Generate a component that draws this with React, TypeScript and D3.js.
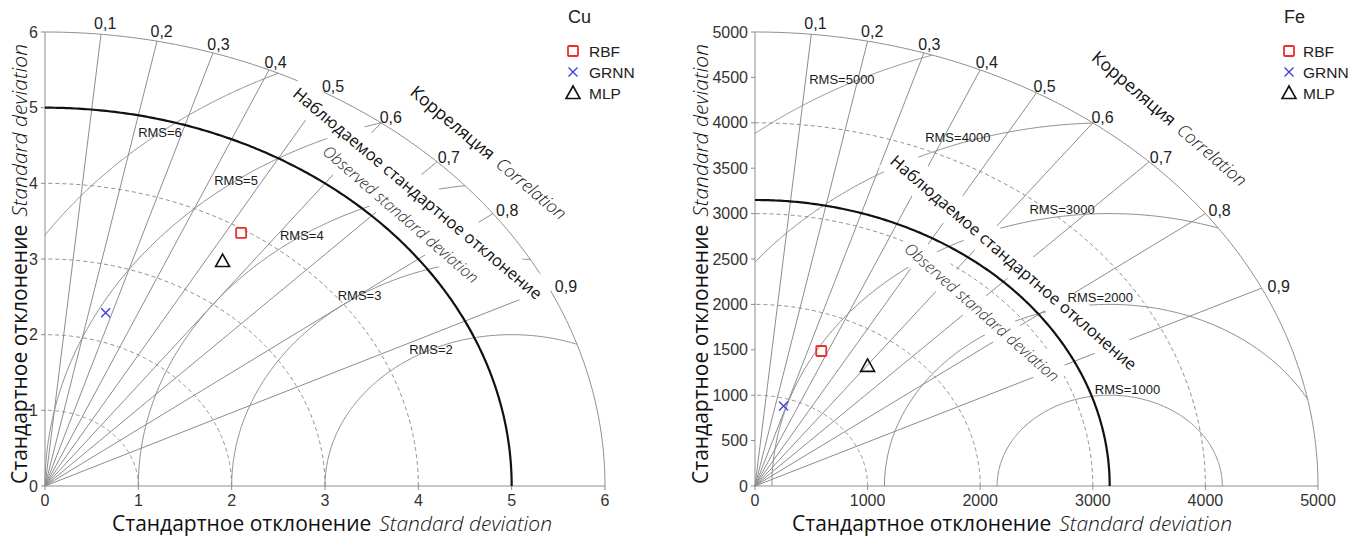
import React, { useLayoutEffect, useRef, useState } from "react";
import * as d3 from "d3";

// ---------- shared ----------
const corrTicks = [0.1, 0.2, 0.3, 0.4, 0.5, 0.6, 0.7, 0.8, 0.9];
const corrTickLabels = ["0,1", "0,2", "0,3", "0,4", "0,5", "0,6", "0,7", "0,8", "0,9"];
const modelNames = ["RBF", "GRNN", "MLP"];

// ---------- Cu ----------
const cuTitle = "Cu";
const cuXTicks = [0, 1, 2, 3, 4, 5, 6];
const cuYTicks = [0, 1, 2, 3, 4, 5, 6];
const cuMaxStd = 6;
const cuRefStd = 5;
const cuStdArcs = [1, 2, 3, 4];
const cuRmsLevels = [2, 3, 4, 5, 6];
const cuRmsLabels = ["RMS=2", "RMS=3", "RMS=4", "RMS=5", "RMS=6"];
const cuModelStd = [3.95, 2.38, 3.53];
const cuModelCorr = [0.532, 0.273, 0.539];

// ---------- Fe ----------
const feTitle = "Fe";
const feXTicks = [0, 1000, 2000, 3000, 4000, 5000];
const feYTicks = [0, 500, 1000, 1500, 2000, 2500, 3000, 3500, 4000, 4500, 5000];
const feMaxStd = 5000;
const feRefStd = 3150;
const feStdArcs = [1000, 2000, 3000, 4000];
const feRmsLevels = [1000, 2000, 3000, 4000, 5000];
const feRmsLabels = ["RMS=1000", "RMS=2000", "RMS=3000", "RMS=4000", "RMS=5000"];
const feModelStd = [1599, 917, 1658];
const feModelCorr = [0.368, 0.277, 0.603];

const GRAY = "#8d8d8d";
const SANS = "Liberation Sans, Arial, sans-serif";
const OPEN = "Open Sans, sans-serif";

function MaskedText(props: {
  x: number; y: number; angle: number; pad?: number; children: any;
  fontSize: number; fill?: string; fontStyle?: string; fontWeight?: number; family?: string;
}) {
  const ref = useRef<SVGTextElement>(null);
  const [bb, setBb] = useState<any>(null);
  useLayoutEffect(() => {
    if (ref.current) {
      const b = ref.current.getBBox();
      setBb({ x: b.x, y: b.y, width: b.width, height: b.height });
    }
  }, []);
  const pad = props.pad ?? 4;
  return (
    <g transform={`translate(${props.x},${props.y}) rotate(${props.angle})`}>
      {bb && (
        <rect x={bb.x - pad} y={bb.y - pad} width={bb.width + 2 * pad} height={bb.height + 2 * pad} fill="white" />
      )}
      <text
        ref={ref}
        textAnchor="middle"
        dominantBaseline="central"
        fontFamily={props.family ?? OPEN}
        fontSize={props.fontSize}
        fill={props.fill ?? "#111"}
        fontStyle={props.fontStyle}
        fontWeight={props.fontWeight}
      >
        {props.children}
      </text>
    </g>
  );
}

function Marker({ kind, x, y }: { kind: number; x: number; y: number }) {
  if (kind === 0)
    return <rect x={x - 5} y={y - 5} width={10} height={10} fill="none" stroke="#e8312b" strokeWidth={1.8} rx={1} />;
  if (kind === 1)
    return (
      <path d={`M${x - 4.5},${y - 4.5}L${x + 4.5},${y + 4.5}M${x - 4.5},${y + 4.5}L${x + 4.5},${y - 4.5}`} stroke="#3b3bdc" strokeWidth={1.3} fill="none" />
    );
  return <path d={`M${x},${y - 7}L${x + 7},${y + 5.5}L${x - 7},${y + 5.5}Z`} fill="none" stroke="#111" strokeWidth={1.6} strokeLinejoin="miter" />;
}

type PanelProps = {
  px0: number; px1: number; py0: number; py1: number;
  xTicks: number[]; yTicks: number[];
  maxStd: number; refStd: number; stdArcs: number[];
  rmsLevels: number[]; rmsLabels: string[]; rmsLabelAngles: number[]; rmsLift: number;
  modelStd: number[]; modelCorr: number[];
  title: string; legendX: number; legendTextDx: number;
  corrTitle: { x: number; y: number; a: number };
  obsRu: { x: number; y: number; a: number };
  obsEn: { x: number; y: number; a: number };
  yTitleX: number; xTitleX: number;
};

function Panel(p: PanelProps) {
  const xs = d3.scaleLinear().domain([0, p.maxStd]).range([p.px0, p.px1]);
  const ys = d3.scaleLinear().domain([0, p.maxStd]).range([p.py0, p.py1]);
  const line = d3
    .line<[number, number]>()
    .x((d) => xs(d[0]))
    .y((d) => ys(d[1]));
  const N = 240;
  const circle = (cx: number, rho: number, a0: number, a1: number) =>
    line(d3.range(N + 1).map((i) => {
      const a = a0 + ((a1 - a0) * i) / N;
      return [cx + rho * Math.cos(a), rho * Math.sin(a)] as [number, number];
    })) as string;

  const R = p.maxStd;
  const c = p.refStd;
  const rmsPaths = p.rmsLevels.map((rho) => {
    const k = (R * R - c * c - rho * rho) / (2 * c * rho);
    const a0 = Math.acos(Math.max(-1, Math.min(1, k)));
    const a1 = c < rho ? Math.acos(-c / rho) : Math.PI;
    return circle(c, rho, a0, a1);
  });

  const yMid = (p.py0 + p.py1) / 2;

  return (
    <g>
      {/* axes */}
      <line x1={xs(0)} y1={ys(0)} x2={xs(R)} y2={ys(0)} stroke={GRAY} strokeWidth={1} />
      <line x1={xs(0)} y1={ys(0)} x2={xs(0)} y2={ys(R)} stroke={GRAY} strokeWidth={1} />
      {p.xTicks.map((t) => (
        <g key={"xt" + t}>
          <line x1={xs(t)} x2={xs(t)} y1={ys(0)} y2={ys(0) + 4} stroke={GRAY} />
          <text x={xs(t)} y={ys(0) + 20} textAnchor="middle" fontFamily={SANS} fontSize={16} fill="#333">{t}</text>
        </g>
      ))}
      {p.yTicks.map((t) => (
        <g key={"yt" + t}>
          <line x1={xs(0) - 4} x2={xs(0)} y1={ys(t)} y2={ys(t)} stroke={GRAY} />
          <text x={xs(0) - 7} y={ys(t)} textAnchor="end" dominantBaseline="central" fontFamily={SANS} fontSize={16} fill="#333">{t}</text>
        </g>
      ))}

      {/* std dashed arcs */}
      {p.stdArcs.map((r) => (
        <path key={"sd" + r} d={circle(0, r, 0, Math.PI / 2)} fill="none" stroke={GRAY} strokeWidth={1} strokeDasharray="4,3" />
      ))}
      {/* outer arc */}
      <path d={circle(0, R, 0, Math.PI / 2)} fill="none" stroke={GRAY} strokeWidth={1} />

      {/* correlation rays */}
      {corrTicks.map((k) => {
        const a = Math.acos(k);
        return <line key={"cr" + k} x1={xs(0)} y1={ys(0)} x2={xs(R * Math.cos(a))} y2={ys(R * Math.sin(a))} stroke={GRAY} strokeWidth={1} />;
      })}

      {/* RMS arcs */}
      {rmsPaths.map((d, i) => (
        <path key={"rms" + i} d={d} fill="none" stroke={GRAY} strokeWidth={1} />
      ))}

      {/* observed std */}
      <path d={circle(0, c, 0, Math.PI / 2)} fill="none" stroke="#111" strokeWidth={2.2} />

      {/* masked rotated titles */}
      <MaskedText x={p.obsRu.x} y={p.obsRu.y} angle={p.obsRu.a} fontSize={16.5} pad={5}>
        Наблюдаемое стандартное отклонение
      </MaskedText>
      <MaskedText x={p.obsEn.x} y={p.obsEn.y} angle={p.obsEn.a} fontSize={16} fontStyle="italic" fontWeight={300} fill="#2a2a2a" pad={4}>
        Observed standard deviation
      </MaskedText>
      <MaskedText x={p.corrTitle.x} y={p.corrTitle.y} angle={p.corrTitle.a} fontSize={17.5} pad={2}>
        <tspan>Корреляция</tspan>
        <tspan dx={8} fontStyle="italic" fontWeight={300} fill="#111">Correlation</tspan>
      </MaskedText>

      {/* RMS labels */}
      {p.rmsLevels.map((rho, i) => {
        const a = (p.rmsLabelAngles[i] * Math.PI) / 180;
        const x = xs(c + rho * Math.cos(a));
        const y = ys(rho * Math.sin(a)) + p.rmsLift;
        return (
          <text key={"rl" + i} x={x} y={y} textAnchor="middle" dominantBaseline="central" fontFamily={SANS} fontSize={13} fill="#1a1a1a">
            {p.rmsLabels[i]}
          </text>
        );
      })}

      {/* correlation labels */}
      {corrTicks.map((k, i) => {
        const a = Math.acos(k);
        const x = xs(R * Math.cos(a)) + 4 + 16 * k * k;
        const y = ys(R * Math.sin(a)) - 12 + 11 * k;
        return (
          <text key={"cl" + k} x={x} y={y} textAnchor="middle" dominantBaseline="central" fontFamily={SANS} fontSize={16} fill="#222">
            {corrTickLabels[i]}
          </text>
        );
      })}

      {/* models */}
      {p.modelStd.map((s, i) => {
        const a = Math.acos(p.modelCorr[i]);
        return <Marker key={"m" + i} kind={i} x={xs(s * Math.cos(a))} y={ys(s * Math.sin(a))} />;
      })}

      {/* legend */}
      <text x={p.legendX - 5} y={23} fontFamily={SANS} fontSize={18} fill="#222">{p.title}</text>
      {modelNames.map((n, i) => (
        <g key={"lg" + n}>
          <Marker kind={i} x={p.legendX} y={51 + i * 21} />
          <text x={p.legendX + p.legendTextDx} y={51 + i * 21} dominantBaseline="central" fontFamily={SANS} fontSize={15.5} fill="#222">{n}</text>
        </g>
      ))}

      {/* axis titles */}
      <text x={p.xTitleX} y={531} textAnchor="middle" fontFamily={OPEN} fontSize={21} fill="#111">
        <tspan>Стандартное отклонение</tspan>
        <tspan dx={8} fontStyle="italic" fontWeight={300} fill="#111">Standard deviation</tspan>
      </text>
      <text transform={`translate(${p.yTitleX},${yMid + 5}) rotate(-90)`} textAnchor="middle" fontFamily={OPEN} fontSize={21} fill="#111">
        <tspan>Стандартное отклонение</tspan>
        <tspan dx={8} fontStyle="italic" fontWeight={300} fill="#111">Standard deviation</tspan>
      </text>
    </g>
  );
}

export default function App() {
  return (
    <svg width={1354} height={536} style={{ position: "absolute", left: 0, top: 0, display: "block", background: "white" }}>
      <rect width={1354} height={536} fill="white" />
      <Panel
        px0={45} px1={605} py0={486} py1={32}
        xTicks={cuXTicks} yTicks={cuYTicks}
        maxStd={cuMaxStd} refStd={cuRefStd} stdArcs={cuStdArcs}
        rmsLevels={cuRmsLevels} rmsLabels={cuRmsLabels}
        rmsLabelAngles={[115.6, 122.9, 124.2, 126.2, 128.9]} rmsLift={0}
        modelStd={cuModelStd} modelCorr={cuModelCorr}
        title={cuTitle} legendX={573} legendTextDx={16}
        corrTitle={{ x: 489, y: 152, a: 40 }}
        obsRu={{ x: 418, y: 193, a: 40 }}
        obsEn={{ x: 401, y: 214, a: 41 }}
        yTitleX={27} xTitleX={332}
      />
      <Panel
        px0={755} px1={1318} py0={486} py1={32}
        xTicks={feXTicks} yTicks={feYTicks}
        maxStd={feMaxStd} refStd={feRefStd} stdArcs={feStdArcs}
        rmsLevels={feRmsLevels} rmsLabels={feRmsLabels}
        rmsLabelAngles={[80.9, 92.4, 98.1, 109.7, 118.4]} rmsLift={-7}
        modelStd={feModelStd} modelCorr={feModelCorr}
        title={feTitle} legendX={1289} legendTextDx={14}
        corrTitle={{ x: 1170, y: 118, a: 40.5 }}
        obsRu={{ x: 1014, y: 262, a: 40.8 }}
        obsEn={{ x: 982, y: 312, a: 41.5 }}
        yTitleX={708} xTitleX={1012}
      />
    </svg>
  );
}
